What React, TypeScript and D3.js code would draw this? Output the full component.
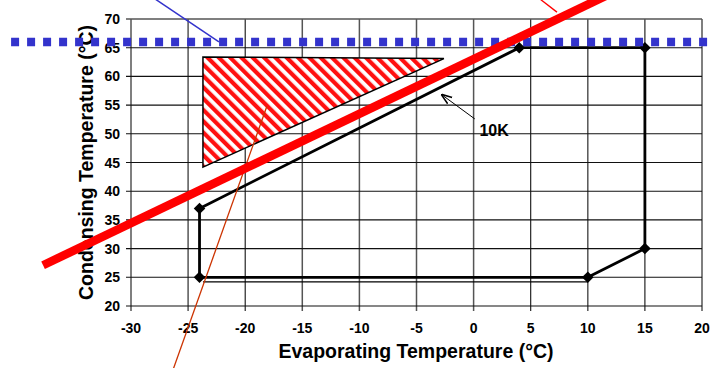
import React from "react";
import * as d3 from "d3";

// axis ticks
const xTicks = [-30, -25, -20, -15, -10, -5, 0, 5, 10, 15, 20];
const yTicks = [20, 25, 30, 35, 40, 45, 50, 55, 60, 65, 70];

// operating envelope (evap, cond)
const envelopeEvap = [-24, -24, 4, 15, 15, 10, -24];
const envelopeCond = [25, 37, 65, 65, 30, 25, 25];

// thin line just under the bottom edge
const offsetEvap = [-23.7, 10];
const offsetCond = [24.2, 24.2];

// hatched triangle
const triEvap = [-23.7, -2.6, -23.7];
const triCond = [63.4, 63.1, 44.2];

// overlay lines drawn on top of the chart
const redLineEvap = [-37.7, 12.6];
const redLineCond = [27.1, 75];
const blueDotEvap = [-40.5, 21];
const blueDotCond = [66, 66];
const blueLineEvap = [-27.9, -22.3];
const blueLineCond = [73.5, 66];
const redThinEvap = [5.8, 7.3];
const redThinCond = [73.5, 71.2];
const brownEvap = [-18.1, -26.3];
const brownCond = [54.8, 9];

// 10K note
const arrowEvap = [0.1, -2.85];
const arrowCond = [52.6, 56.9];
const noteEvap = 1.8;
const noteCond = 50.6;

const W = 713;
const H = 368;
const FONT = "'Liberation Sans', Arial, sans-serif";

export default function App() {
  const x = d3.scaleLinear().domain([-30, 20]).range([131, 702]);
  const y = d3.scaleLinear().domain([20, 70]).range([306, 19]);

  const line = d3
    .line<[number, number]>()
    .x((d) => x(d[0]))
    .y((d) => y(d[1]));
  const pts = (a: number[], b: number[]) => a.map((v, i) => [v, b[i]] as [number, number]);

  const envelope = pts(envelopeEvap, envelopeCond);
  const diamond = d3.symbol().type(d3.symbolDiamond2).size(85)();

  return (
    <div style={{ position: "absolute", left: 0, top: 0 }}>
      <svg width={W} height={H} style={{ display: "block", fontFamily: FONT }}>
        <defs>
          <pattern
            id="hatch"
            width={8}
            height={8}
            patternUnits="userSpaceOnUse"
            patternTransform="rotate(-45)"
          >
            <rect width={8} height={8} fill="#fff" />
            <rect width={4.2} height={8} fill="#ff1010" />
          </pattern>
          <marker
            id="arr"
            viewBox="0 0 10 10"
            refX={10}
            refY={5}
            markerWidth={11}
            markerHeight={11}
            markerUnits="userSpaceOnUse"
            orient="auto"
          >
            <path d="M0,1.5 L10,5 L0,8.5" fill="none" stroke="#000" strokeWidth={1.4} />
          </marker>
        </defs>
        <rect width={W} height={H} fill="#fff" />

        {/* grid */}
        {xTicks.map((t) => (
          <line
            key={"gx" + t}
            x1={x(t)}
            x2={x(t)}
            y1={y(70)}
            y2={y(20) + 5}
            stroke={t === -20 || t === 5 || t === 15 ? "#111" : "#555"}
            strokeWidth={t === -20 || t === 5 || t === 15 ? 1.1 : 1.5}
          />
        ))}
        {yTicks.map((t) => (
          <line
            key={"gy" + t}
            x1={x(-30) - 5}
            x2={x(20)}
            y1={y(t)}
            y2={y(t)}
            stroke={t === 70 ? "#555" : "#111"}
            strokeWidth={t === 70 ? 1.5 : 1.1}
          />
        ))}

        {/* tick labels */}
        {xTicks.map((t) => (
          <text
            key={"tx" + t}
            x={x(t)}
            y={333}
            textAnchor="middle"
            fontSize={14}
            fontWeight="bold"
          >
            {t}
          </text>
        ))}
        {yTicks.map((t) => (
          <text
            key={"ty" + t}
            x={120}
            y={y(t)}
            dy="0.36em"
            textAnchor="end"
            fontSize={14}
            fontWeight="bold"
          >
            {t}
          </text>
        ))}

        {/* axis titles */}
        <text x={416} y={358} textAnchor="middle" fontSize={19.5} fontWeight="bold">
          Evaporating Temperature (°C)
        </text>
        <text
          transform={`translate(85.5,${(y(20) + y(70)) / 2}) rotate(-90)`}
          textAnchor="middle"
          dy="0.36em"
          fontSize={19.5}
          fontWeight="bold"
        >
          Condensing Temperature (°C)
        </text>

        {/* hatched triangle */}
        <path
          d={line(pts(triEvap, triCond))! + "Z"}
          fill="url(#hatch)"
          stroke="#000"
          strokeWidth={1.5}
        />

        {/* envelope */}
        <path d={line(pts(offsetEvap, offsetCond))!} fill="none" stroke="#000" strokeWidth={1.3} />
        <path d={line(envelope)!} fill="none" stroke="#000" strokeWidth={2.8} strokeLinejoin="round" />
        {envelope.slice(0, -1).map((d, i) => (
          <path key={"m" + i} d={diamond!} transform={`translate(${x(d[0])},${y(d[1])})`} fill="#000" />
        ))}

        {/* 10K note */}
        <path
          d={line(pts(arrowEvap, arrowCond))!}
          stroke="#000"
          strokeWidth={1}
          markerEnd="url(#arr)"
        />
        <text
          x={x(noteEvap)}
          y={y(noteCond)}
          dy="0.36em"
          textAnchor="middle"
          fontSize={16}
          fontWeight="bold"
        >
          10K
        </text>

        {/* overlay annotations */}
        <path d={line(pts(brownEvap, brownCond))!} stroke="#cc3300" strokeWidth={1.3} fill="none" />
        <path
          d={line(pts(blueDotEvap, blueDotCond))!}
          stroke="#3333cc"
          strokeWidth={8.5}
          strokeDasharray="8 8"
          fill="none"
        />
        <path d={line(pts(blueLineEvap, blueLineCond))!} stroke="#3333cc" strokeWidth={1.5} fill="none" />
        <path d={line(pts(redThinEvap, redThinCond))!} stroke="#ff0000" strokeWidth={1.3} fill="none" />
        <path d={line(pts(redLineEvap, redLineCond))!} stroke="#ff0000" strokeWidth={8.5} fill="none" />
      </svg>
    </div>
  );
}
